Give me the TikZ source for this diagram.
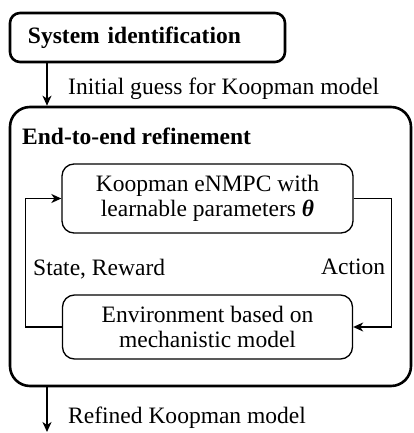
\documentclass[tikz,border=0pt]{standalone}
\usepackage{fontspec}
\setmainfont{Liberation Serif}
\usetikzlibrary{arrows.meta}
\begin{document}
\begin{tikzpicture}[x=1bp,y=-1bp,
  every node/.style={font=\fontsize{23.6}{25.5}\selectfont},
  thickbox/.style={draw, line width=2.6bp},
  thinbox/.style={draw, line width=1.3bp, rounded corners=12bp, align=center, inner sep=0pt},
  txt/.style={anchor=base west, inner sep=0pt},
  arrthick/.style={line width=1.6bp, -{Stealth[length=10bp,width=9bp,inset=3bp]}},
  arrthin/.style={line width=1.3bp, -{Stealth[length=10bp,width=9bp,inset=3bp]}}]
\useasboundingbox (0,0) rectangle (413,433);
% boxes
\node[thickbox, rounded corners=10bp, minimum height=49bp, text width=239bp,
      inner xsep=18bp, inner ysep=0pt, align=left,
      font=\fontsize{23.6}{25.5}\selectfont\bfseries] (sysid) at (147.5,37.5) {System identification};
\node[thickbox, rounded corners=20bp, minimum width=401bp, minimum height=279bp] (refine) at (210.5,246.5) {};
\node[txt, font=\fontsize{23.6}{25.5}\selectfont\bfseries] (reftitle) at (22,145) {End-to-end refinement};
\node[thinbox, minimum width=291bp, minimum height=69bp] (koop) at (207.5,198.5)
  {Koopman eNMPC with\\learnable parameters {\bfseries\itshape θ}};
\node[thinbox, minimum width=290bp, minimum height=64bp] (env) at (207.5,327)
  {Environment based on\\mechanistic model};
% labels
\node[txt] (guess) at (68,95) {Initial guess for Koopman model};
\node[txt] (state) at (33,275) {State, Reward};
\node[txt] (action) at (321,274) {Action};
\node[txt] (refined) at (68,423) {Refined Koopman model};
% connectors
\coordinate (colx) at (47,0);
\coordinate (outend) at (47,432);
\draw[arrthick] (sysid.south -| colx) -- (refine.north -| colx);
\draw[arrthick] (refine.south -| colx) -- (outend);
\draw[arrthin] (env.west) -- ++(-36,0) |- (koop.west);
\draw[arrthin] (koop.east) -- ++(38,0) |- (env.east);
\end{tikzpicture}
\end{document}
